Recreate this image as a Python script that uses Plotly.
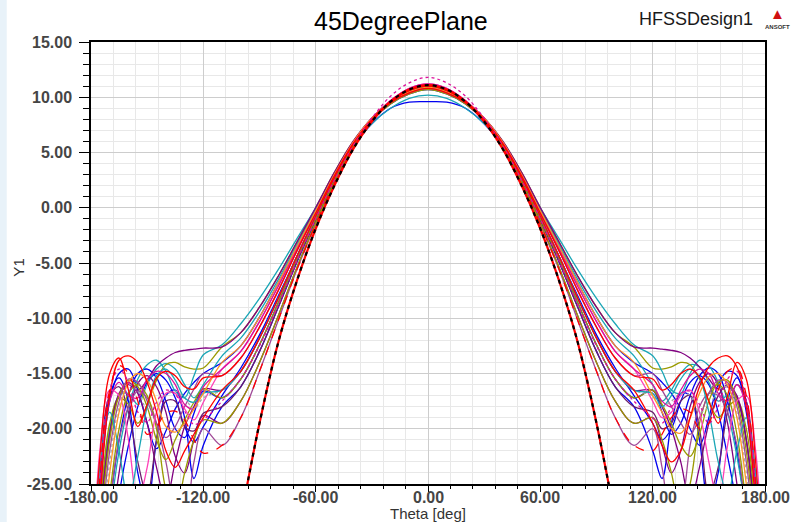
import plotly.graph_objects as go

# ---------------- data ----------------
theta_left = [-180, -175, -170, -165, -160, -155, -150, -145, -140, -135, -130, -125, -120]
theta_mid = [-110, -100, -90, -80, -70, -60, -50, -40, -30, -20, -10, 0,
             10, 20, 30, 40, 50, 60, 70, 80, 90, 100, 110]
theta_right = [120, 125, 130, 135, 140, 145, 150, 155, 160, 165, 170, 175, 180]

# main-lobe values (theta_mid)
body_A = [-36.0, -28.0, -19.5, -12.2, -6.6, -1.9, 2.0, 5.3, 7.8, 9.6, 10.7, 11.1, 10.7, 9.6, 7.8, 5.3, 2.0, -1.9, -6.6, -12.2, -19.5, -28.0, -36.0]
body_N = [-21.5, -19.0, -14.8, -10.2, -5.6, -1.5, 2.2, 5.4, 7.8, 9.6, 10.7, 11.1, 10.7, 9.6, 7.8, 5.4, 2.2, -1.5, -5.6, -10.2, -14.8, -19.0, -21.5]
body_B1 = [-19.5, -17.5, -14.0, -9.8, -5.4, -1.4, 2.3, 5.5, 7.9, 9.6, 10.6, 11.0, 10.6, 9.6, 7.9, 5.5, 2.3, -1.4, -5.4, -9.8, -14.0, -17.5, -19.5]
body_B2 = [-18.0, -16.2, -13.0, -9.0, -4.9, -1.1, 2.5, 5.6, 7.9, 9.5, 10.5, 10.9, 10.5, 9.5, 7.9, 5.6, 2.5, -1.1, -4.9, -9.0, -13.0, -16.2, -18.0]
body_BC = [-17.2, -15.5, -12.4, -8.6, -4.6, -1.0, 2.6, 5.6, 7.9, 9.4, 10.3, 10.7, 10.3, 9.4, 7.9, 5.6, 2.6, -1.0, -4.6, -8.6, -12.4, -15.5, -17.2]
body_C1 = [-16.5, -14.8, -11.8, -8.2, -4.4, -0.8, 2.7, 5.7, 8.0, 9.6, 10.6, 11.0, 10.6, 9.6, 8.0, 5.7, 2.7, -0.8, -4.4, -8.2, -11.8, -14.8, -16.5]
body_C2 = [-15.2, -13.6, -10.8, -7.5, -3.9, -0.5, 2.9, 5.8, 8.0, 9.5, 10.4, 10.8, 10.4, 9.5, 8.0, 5.8, 2.9, -0.5, -3.9, -7.5, -10.8, -13.6, -15.2]
body_CD = [-14.6, -13.0, -10.3, -7.1, -3.7, -0.4, 2.9, 5.9, 8.1, 9.7, 10.8, 11.2, 10.8, 9.7, 8.1, 5.9, 2.9, -0.4, -3.7, -7.1, -10.3, -13.0, -14.6]
body_D1 = [-14.0, -12.5, -9.9, -6.8, -3.5, -0.3, 3.0, 5.9, 8.1, 9.6, 10.5, 10.9, 10.5, 9.6, 8.1, 5.9, 3.0, -0.3, -3.5, -6.8, -9.9, -12.5, -14.0]
body_DE = [-13.4, -11.8, -9.4, -6.5, -3.3, -0.2, 3.1, 5.9, 8.0, 9.5, 10.4, 10.8, 10.4, 9.5, 8.0, 5.9, 3.1, -0.2, -3.3, -6.5, -9.4, -11.8, -13.4]
body_D2 = [-12.6, -11.3, -9.0, -6.2, -3.1, 0.0, 3.2, 6.0, 8.1, 9.6, 10.6, 11.0, 10.6, 9.6, 8.1, 6.0, 3.2, 0.0, -3.1, -6.2, -9.0, -11.3, -12.6]
body_E = [-12.4, -10.5, -8.2, -5.6, -2.8, 0.0, 3.0, 5.6, 7.6, 9.0, 9.9, 10.2, 9.9, 9.0, 7.6, 5.6, 3.0, 0.0, -2.8, -5.6, -8.2, -10.5, -12.4]
body_F = [-17.0, -14.5, -11.5, -8.0, -4.4, -0.8, 2.6, 5.5, 7.6, 9.0, 9.55, 9.6, 9.55, 9.0, 7.6, 5.5, 2.6, -0.8, -4.4, -8.0, -11.5, -14.5, -17.0]
body_M = [-17.5, -15.5, -12.5, -8.8, -4.8, -1.0, 2.5, 5.6, 8.1, 10.1, 11.3, 11.8, 11.3, 10.1, 8.1, 5.6, 2.5, -1.0, -4.8, -8.8, -12.5, -15.5, -17.5]

# back-lobe values (theta_left / theta_right)
c1_l = [-40, -26.0, -17.0, -13.8, -13.4, -14.0, -15.8, -18.5, -22.0, -23.5, -22.0, -20.5, -19.0]
c1_r = [-19.5, -21.5, -23.0, -22.0, -19.0, -16.2, -14.4, -13.6, -13.4, -14.4, -18.0, -27.0, -40]
c2_l = [-40, -26.0, -17.0, -15.4, -17.5, -24.0, -27.0, -21.0, -17.0, -16.5, -19.0, -24.5, -21.5]
c2_r = [-22.0, -24.5, -19.5, -16.8, -17.0, -21.0, -27.0, -24.0, -17.5, -15.4, -17.5, -26.0, -40]
c3_l = [-45, -40, -28.5, -22.0, -18.0, -15.5, -14.2, -13.8, -14.8, -16.6, -17.2, -15.2, -13.3]
c3_r = [-13.4, -14.8, -16.5, -16.8, -15.0, -13.8, -14.3, -15.8, -18.5, -22.5, -28.0, -40, -45]
c4_l = [-40, -27.0, -19.5, -17.2, -17.8, -19.5, -17.8, -15.6, -14.2, -14.0, -14.4, -14.6, -14.5]
c4_r = [-14.5, -14.6, -14.4, -14.0, -14.2, -15.5, -17.5, -19.0, -18.0, -17.5, -20.0, -28.0, -40]
c5_l = [-40, -28.0, -20.5, -17.0, -16.0, -16.5, -15.6, -14.3, -13.6, -13.1, -12.9, -12.8, -12.7]
c5_r = [-12.7, -12.8, -12.9, -13.1, -13.6, -14.4, -15.5, -16.4, -16.2, -17.2, -21.0, -29.0, -40]
c6_l = [-40, -25.0, -17.5, -15.8, -17.0, -17.2, -15.5, -14.8, -15.0, -16.0, -17.8, -18.2, -16.2]
c6_r = [-16.0, -17.5, -18.0, -16.5, -15.2, -14.6, -15.0, -16.8, -17.5, -16.0, -18.0, -26.0, -40]
c7_l = [-40, -32.0, -24.0, -18.5, -15.8, -15.0, -15.6, -17.5, -19.8, -20.3, -19.5, -18.2, -16.8]
c7_r = [-17.0, -18.5, -20.0, -20.4, -19.0, -16.8, -15.3, -15.0, -16.0, -19.0, -25.0, -33.0, -40]
c8_l = [-40, -24.0, -17.0, -16.2, -18.5, -23.0, -26.0, -21.0, -17.5, -17.5, -19.8, -20.2, -18.6]
c8_r = [-18.5, -20.0, -19.5, -17.5, -17.0, -20.0, -26.0, -23.5, -18.5, -16.0, -17.5, -25.0, -40]
c9_l = [-40, -24.0, -16.5, -14.3, -15.0, -17.5, -20.5, -19.8, -18.6, -18.4, -19.2, -21.0, -22.2]
c9_r = [-22.0, -20.5, -19.0, -18.2, -18.5, -20.0, -19.5, -16.5, -14.8, -14.5, -17.0, -25.0, -40]
c10_l = [-40, -35.0, -27.0, -21.0, -17.0, -15.0, -14.6, -15.4, -17.5, -20.0, -20.8, -18.6, -16.6]
c10_r = [-16.5, -18.5, -20.5, -19.5, -17.0, -15.2, -14.5, -15.0, -17.5, -22.0, -28.0, -36.0, -40]
c11_l = [-40, -30.0, -22.0, -17.5, -15.5, -15.8, -17.5, -19.5, -20.8, -19.8, -18.0, -16.4, -15.0]
c11_r = [-15.0, -16.5, -18.0, -19.5, -20.5, -19.0, -16.8, -15.6, -15.8, -18.0, -23.0, -31.0, -40]
c12_l = [-40, -34.0, -26.0, -20.0, -16.8, -16.0, -17.0, -20.0, -25.5, -27.5, -24.0, -21.0, -19.2]
c12_r = [-19.0, -21.0, -24.0, -27.5, -25.0, -19.5, -16.8, -16.0, -17.0, -20.5, -27.0, -35.0, -40]
c13_l = [-36.0, -21.5, -16.5, -17.0, -21.0, -26.5, -23.5, -18.5, -16.8, -16.8, -18.2, -19.2, -17.6]
c13_r = [-17.5, -19.0, -18.5, -17.0, -16.5, -18.5, -23.0, -26.5, -21.5, -17.5, -17.0, -22.0, -35.0]
c14_l = [-40, -28.0, -20.5, -16.8, -15.8, -16.8, -19.5, -23.5, -26.5, -23.0, -19.8, -18.0, -16.4]
c14_r = [-16.5, -18.0, -20.0, -23.0, -26.5, -23.5, -19.5, -17.0, -16.0, -17.0, -21.0, -29.0, -40]
c15_l = [-36.0, -22.0, -15.0, -13.6, -16.5, -19.8, -17.8, -15.4, -14.8, -15.2, -16.2, -16.4, -15.4]
c15_r = [-15.5, -16.5, -16.0, -15.0, -14.6, -15.3, -17.5, -19.5, -17.0, -14.0, -15.5, -23.0, -36.0]
c16_l = [-40, -27.0, -20.0, -17.0, -16.8, -17.8, -16.0, -14.6, -14.1, -14.6, -16.0, -17.2, -16.0]
c16_r = [-16.0, -17.5, -16.5, -15.0, -14.2, -14.4, -15.8, -17.5, -17.0, -17.5, -21.0, -28.0, -40]
c17_l = [-40, -31.0, -23.0, -18.0, -16.0, -16.6, -18.2, -18.0, -17.0, -16.6, -17.2, -18.2, -17.2]
c17_r = [-17.0, -18.0, -17.5, -16.8, -17.0, -18.5, -18.0, -16.5, -16.2, -18.5, -24.0, -32.0, -40]
c18_l = [-45, -40, -33.0, -26.0, -21.5, -18.0, -15.8, -15.0, -15.6, -17.2, -19.8, -21.2, -19.8]
c18_r = [-19.5, -21.0, -20.0, -17.5, -15.8, -15.2, -16.0, -18.5, -22.5, -27.0, -33.0, -40, -45]
c19_l = [-40, -24.0, -16.5, -14.6, -15.8, -18.5, -19.4, -17.6, -16.5, -16.9, -18.4, -19.6, -19.2]
c19_r = [-19.0, -19.5, -18.0, -16.8, -16.6, -17.8, -19.5, -18.0, -15.5, -14.8, -17.5, -25.0, -40]
c22_l = [-40, -25.0, -17.5, -15.0, -14.6, -16.5, -19.5, -21.8, -20.2, -18.2, -16.8, -15.8, -15.0]
c22_r = [-15.0, -15.8, -16.8, -18.2, -20.0, -21.5, -19.0, -16.0, -14.8, -15.2, -18.5, -26.0, -40]
c23_l = [-40, -35.0, -27.0, -21.0, -18.0, -16.6, -17.2, -19.5, -23.0, -27.0, -28.0, -23.0, -20.0]
c23_r = [-20.0, -23.5, -28.0, -27.0, -21.5, -18.0, -16.8, -17.0, -18.5, -21.5, -28.0, -36.0, -40]
c24_l = [-40, -29.0, -21.0, -17.0, -15.6, -16.2, -18.0, -21.0, -22.8, -21.0, -19.2, -17.6, -16.4]
c24_r = [-16.5, -17.8, -19.5, -21.5, -22.5, -20.5, -17.5, -15.8, -15.6, -17.5, -22.0, -30.0, -40]
c25_l = [-40, -38.0, -30.0, -24.0, -19.0, -15.9, -15.2, -16.2, -18.5, -22.5, -24.0, -21.0, -18.8]
c25_r = [-19.0, -21.5, -24.0, -22.0, -18.0, -15.8, -15.0, -16.0, -19.5, -25.0, -31.0, -38.0, -40]
c26_l = [-36.0, -23.0, -18.5, -22.0, -26.5, -22.5, -18.0, -15.2, -14.6, -15.6, -17.2, -17.6, -16.8]
c26_r = [-16.8, -18.0, -17.0, -15.5, -14.6, -15.4, -18.5, -23.0, -26.0, -22.0, -19.0, -24.0, -36.0]

x_ticks = [-180, -120, -60, 0, 60, 120, 180]
y_ticks = [-25, -20, -15, -10, -5, 0, 5, 10, 15]

RED, BLUE, CYAN, OLIVE = "#ff0000", "#0000f0", "#1aa6b6", "#9a9a00"
PURPLE, MAGENTA, ORANGE, DPURP = "#800080", "#dc119c", "#ff9326", "#6b1d6b"
VIOLET, PINK, GREY = "#a04a98", "#ff40b8", "#a8a8a8"

# drawing order: first = bottom
curves = [
    (c22_l, body_D1, c22_r, BLUE, "solid"),
    (c10_l, body_BC, c10_r, BLUE, "solid"),
    (c2_l, body_B2, c2_r, BLUE, "solid"),
    (c18_l, body_F, c18_r, BLUE, "solid"),
    (c16_l, body_DE, c16_r, CYAN, "solid"),
    (c4_l, body_D2, c4_r, OLIVE, "solid"),
    (c3_l, body_E, c3_r, CYAN, "solid"),
    (c5_l, body_D2, c5_r, PURPLE, "solid"),
    (c14_l, body_C1, c14_r, PURPLE, "solid"),
    (c25_l, body_B1, c25_r, PURPLE, "solid"),
    (c8_l, body_B2, c8_r, DPURP, "solid"),
    (c23_l, body_N, c23_r, VIOLET, "solid"),
    (c12_l, body_B1, c12_r, OLIVE, "solid"),
    (c24_l, body_BC, c24_r, OLIVE, "solid"),
    (c11_l, body_C2, c11_r, VIOLET, "solid"),
    (c13_l, body_CD, c13_r, PINK, "solid"),
    (c17_l, body_C1, c17_r, GREY, "dot"),
    (c26_l, body_C1, c26_r, CYAN, "solid"),
    (c6_l, body_CD, c6_r, MAGENTA, "solid"),
    (c7_l, body_D1, c7_r, ORANGE, "solid"),
    (c15_l, body_C2, c15_r, RED, "solid"),
    (c1_l, body_C1, c1_r, RED, "solid"),
    (c19_l, body_M, c19_r, MAGENTA, "dot"),
    (c9_l, body_N, c9_r, RED, "dash"),
]

fig = go.Figure()
theta_all = theta_left + theta_mid + theta_right
for left, body, right, color, dash in curves:
    fig.add_trace(go.Scatter(
        x=theta_all, y=left + body + right, mode="lines",
        line=dict(color=color, width=1.3, dash=dash, shape="spline", smoothing=1.0),
        showlegend=False, hoverinfo="skip"))

# narrow pattern: red trace with black dashed trace on top
fig.add_trace(go.Scatter(x=theta_mid, y=body_A, mode="lines",
                         line=dict(color=RED, width=2.2, shape="spline"),
                         showlegend=False, hoverinfo="skip"))
fig.add_trace(go.Scatter(x=theta_mid, y=body_A, mode="lines",
                         line=dict(color="#000000", width=2.2, dash="4px,4px", shape="spline"),
                         showlegend=False, hoverinfo="skip"))

FONT = "Liberation Sans, Arial, sans-serif"
tickfont = dict(family=FONT, size=16, color="#454545", weight="bold")

axis_common = dict(
    showline=True, linecolor="#000000", linewidth=1.5, mirror=True,
    ticks="outside", tickcolor="#000000", tickwidth=1.3,
    showgrid=True, gridcolor="#cdcdcd", gridwidth=1.3,
    zeroline=False, tickfont=tickfont,
)

# x tick labels placed on the x scale, just under the axis
x_label_annotations = [
    dict(text=f"{v:.2f}", x=v, xref="x", y=-0.0295, yref="paper",
         xanchor="center", yanchor="middle", showarrow=False, font=tickfont,
         borderpad=0)
    for v in x_ticks
]

fig.update_layout(
    width=793, height=522,
    margin=dict(l=91, r=28, t=42, b=38),
    paper_bgcolor="#ffffff", plot_bgcolor="#ffffff",
    font=dict(family=FONT, color="#000000"),
    xaxis=dict(axis_common, range=[-180, 180], tickmode="array", tickvals=x_ticks,
               showticklabels=False, ticklen=6,
               minor=dict(tick0=-180, dtick=12, ticks="outside", ticklen=3,
                          tickcolor="#000000", showgrid=True,
                          gridcolor="#e8e8e8", gridwidth=1.2)),
    yaxis=dict(axis_common, range=[-25, 15], tickmode="array", tickvals=y_ticks,
               ticktext=[f"{v:.2f}" for v in y_ticks], ticklen=10,
               ticklabelstandoff=4,
               minor=dict(tick0=-25, dtick=1, ticks="outside", ticklen=6,
                          tickcolor="#000000", showgrid=True,
                          gridcolor="#e8e8e8", gridwidth=1.2)),
    shapes=[dict(type="rect", xref="paper", yref="paper",
                 x0=-0.136, x1=-0.125, y0=-0.1, y1=1.1,
                 fillcolor="#e8f2f9", line=dict(width=0), layer="below")],
    annotations=x_label_annotations + [
        dict(text="45DegreePlane", x=0.46, y=1.047, xref="paper", yref="paper",
             xanchor="center", yanchor="middle", showarrow=False,
             font=dict(family=FONT, size=25, color="#000000")),
        dict(text="HFSSDesign1", x=0.897, y=1.052, xref="paper", yref="paper",
             xanchor="center", yanchor="middle", showarrow=False,
             font=dict(family=FONT, size=18, color="#1a1a1a")),
        dict(text="▲", x=1.019, y=1.065, xref="paper", yref="paper",
             xanchor="center", yanchor="middle", showarrow=False,
             font=dict(family=FONT, size=15, color="#d01010")),
        dict(text="<b>ANSOFT</b>", x=1.019, y=1.033, xref="paper", yref="paper",
             xanchor="center", yanchor="middle", showarrow=False,
             font=dict(family=FONT, size=6, color="#333333")),
        dict(text="Y1", x=-0.108, y=0.49, xref="paper", yref="paper",
             xanchor="center", yanchor="middle", showarrow=False, textangle=-90,
             font=dict(family=FONT, size=15, color="#333333")),
        dict(text="Theta [deg]", x=0.5, y=-0.0665, xref="paper", yref="paper",
             xanchor="center", yanchor="middle", showarrow=False, borderpad=0,
             font=dict(family=FONT, size=15, color="#333333")),
    ],
)

fig.write_html("out.html")
